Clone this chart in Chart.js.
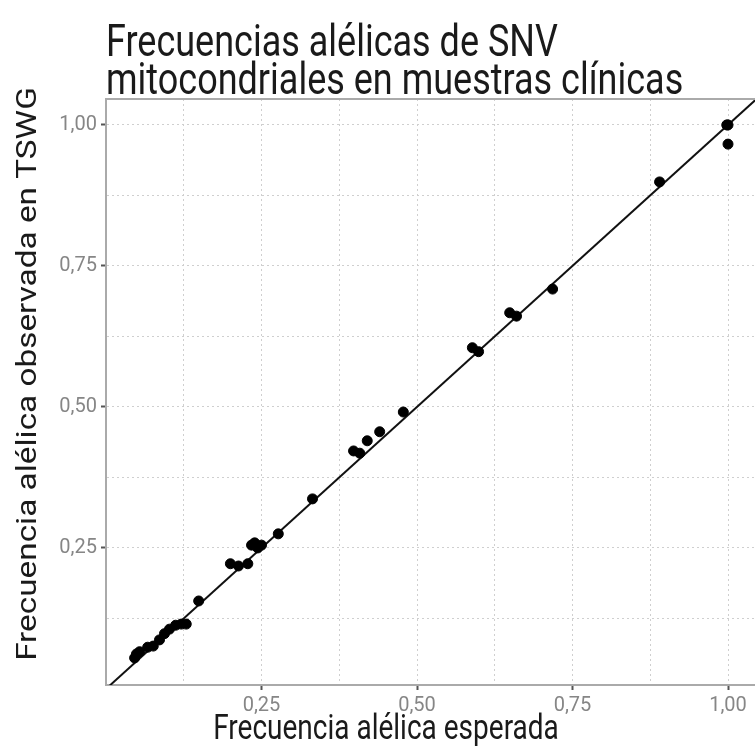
<!DOCTYPE html>
<html>
<head>
<meta charset="utf-8">
<script src="https://cdn.jsdelivr.net/npm/chart.js@4"></script>
<style>
  html, body { margin: 0; padding: 0; background: #fff; }
  #chart { display: block; }
</style>
</head>
<body>
<canvas id="chart" width="755" height="751"></canvas>
<script>
// textos
const titleLines = ['Frecuencias alélicas de SNV', 'mitocondriales en muestras clínicas'];
const xTitle = 'Frecuencia alélica esperada';
const yTitle = 'Frecuencia alélica observada en TSWG';

// rejilla y etiquetas de los ejes
const gridValues = [0.125, 0.25, 0.375, 0.5, 0.625, 0.75, 0.875, 1.0];
const tickValues = [0.25, 0.5, 0.75, 1.0];
const tickLabels = ['0,25', '0,50', '0,75', '1,00'];

// frecuencias (esperada vs observada)
const expected = [
  0.046, 0.049, 0.054, 0.067, 0.076, 0.086, 0.094, 0.102, 0.112, 0.121, 0.129,
  0.149, 0.200, 0.213, 0.228, 0.234, 0.239, 0.244, 0.250, 0.277, 0.332,
  0.398, 0.408, 0.420, 0.440, 0.478, 0.589, 0.599, 0.649, 0.660, 0.718,
  0.890, 1.000, 1.000, 0.998
];
const observed = [
  0.055, 0.062, 0.066, 0.074, 0.076, 0.087, 0.098, 0.106, 0.113, 0.115, 0.115,
  0.156, 0.222, 0.218, 0.222, 0.255, 0.259, 0.250, 0.255, 0.275, 0.337,
  0.422, 0.418, 0.440, 0.456, 0.491, 0.605, 0.598, 0.667, 0.661, 0.709,
  0.899, 1.000, 0.966, 1.000
];
const identity = [0, 1.2];

const points = expected.map((x, i) => ({ x: x, y: observed[i] }));

function tickText(value) {
  const i = tickValues.indexOf(value);
  return i >= 0 ? tickLabels[i] : '';
}

// la imagen original está algo estirada en vertical
const STRETCH = 1.22;

const textPlugin = {
  id: 'textos',
  afterDraw(chart) {
    const ctx = chart.ctx;
    ctx.save();
    ctx.fillStyle = '#1a1a1a';
    ctx.textAlign = 'left';
    ctx.textBaseline = 'alphabetic';
    ctx.font = '36px Roboto';
    titleLines.forEach((t, i) => {
      ctx.save();
      ctx.translate(106, 56 + i * 38);
      ctx.scale(1, STRETCH);
      ctx.fillText(t, 0, 0);
      ctx.restore();
    });

    ctx.font = '28px Roboto';
    ctx.textAlign = 'center';
    ctx.save();
    ctx.translate(386, 739);
    ctx.scale(1, STRETCH);
    ctx.fillText(xTitle, 0, 0);
    ctx.restore();

    ctx.textBaseline = 'middle';
    ctx.translate(29, 374);
    ctx.rotate(-Math.PI / 2);
    ctx.scale(1.19, 1);
    ctx.fillText(yTitle, 0, 0);
    ctx.restore();

    // borde superior del panel
    const a = chart.chartArea;
    ctx.save();
    ctx.strokeStyle = '#aaaaaa';
    ctx.lineWidth = 2;
    ctx.beginPath();
    ctx.moveTo(a.left, a.top);
    ctx.lineTo(a.right, a.top);
    ctx.stroke();
    ctx.restore();
  }
};

const gridOpts = {
  color: '#cfcfcf',
  lineWidth: 1,
  tickLength: 5,
  tickColor: c => tickValues.includes(c.tick && c.tick.value) ? '#555' : 'rgba(0,0,0,0)',
  tickWidth: 2,
  tickBorderDash: []
};
const borderOpts = { color: '#aaaaaa', width: 2, dash: [2, 3] };

new Chart(document.getElementById('chart'), {
  type: 'scatter',
  data: {
    datasets: [
      {
        data: points,
        backgroundColor: '#000',
        borderColor: '#000',
        pointRadius: 5,
        pointHoverRadius: 5,
        order: 0
      },
      {
        type: 'line',
        data: identity.map(v => ({ x: v, y: v })),
        borderColor: '#111',
        borderWidth: 2,
        pointRadius: 0,
        clip: 0,
        order: 1
      }
    ]
  },
  options: {
    responsive: false,
    animation: false,
    events: [],
    layout: { autoPadding: false, padding: { top: 99, left: 0, right: 0, bottom: 0 } },
    plugins: { legend: { display: false }, tooltip: { enabled: false } },
    scales: {
      x: {
        type: 'linear',
        min: 0,
        max: 1.0434,
        afterBuildTicks: s => { s.ticks = gridValues.map(v => ({ value: v })); },
        afterFit: s => { s.height = 66; s.paddingLeft = 0; s.paddingRight = 0; },
        grid: gridOpts,
        border: borderOpts,
        ticks: {
          autoSkip: false,
          maxRotation: 0,
          padding: 4,
          color: '#868686',
          font: { family: 'Roboto', size: 20 },
          callback: v => tickText(v)
        }
      },
      y: {
        type: 'linear',
        min: 0.007,
        max: 1.046,
        afterBuildTicks: s => { s.ticks = gridValues.map(v => ({ value: v })); },
        afterFit: s => { s.width = 106; s.paddingTop = 0; s.paddingBottom = 0; },
        grid: gridOpts,
        border: borderOpts,
        ticks: {
          autoSkip: false,
          padding: 4,
          color: '#868686',
          font: { family: 'Roboto', size: 20 },
          callback: v => tickText(v)
        }
      }
    }
  },
  plugins: [textPlugin]
});
</script>
</body>
</html>
